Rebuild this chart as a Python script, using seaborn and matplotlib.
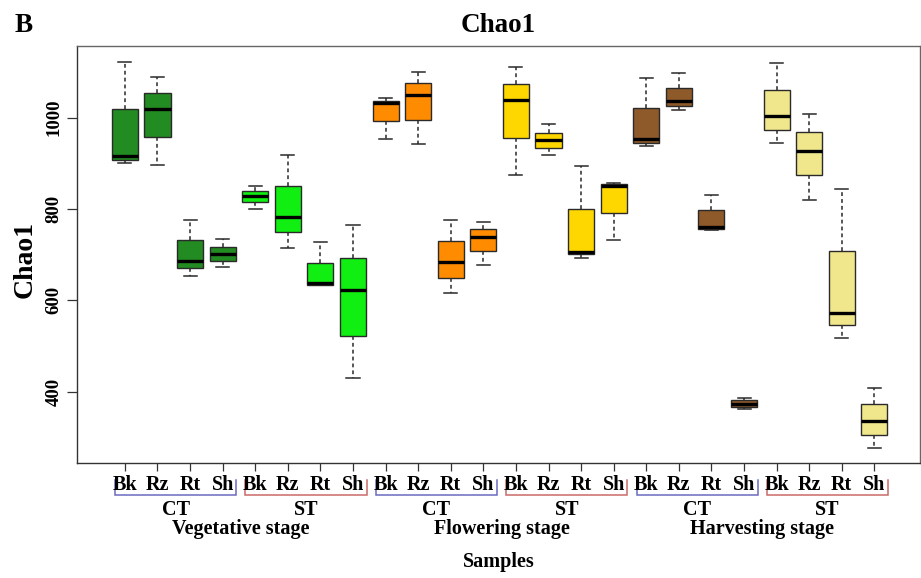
import numpy as np
import pandas as pd
import matplotlib
matplotlib.use("Agg")
import matplotlib.pyplot as plt
import matplotlib.transforms as mtransforms
import seaborn as sns

# ---------------- data ----------------
stages = ["Vegetative stage", "Flowering stage", "Harvesting stage"]
treatments = ["CT", "ST"]
tissues = ["Bk", "Rz", "Rt", "Sh"]

whisker_low = [901, 897, 654, 672, 800, 715, 633, 429,
               953, 942, 616, 677, 875, 918, 693, 733,
               937, 1017, 755, 361, 945, 820, 518, 277]
q1 = [908, 957, 670, 686, 815, 749, 633, 523,
      992, 996, 650, 709, 956, 934, 701, 791,
      945, 1026, 757, 366, 973, 874, 545, 306]
median = [916, 1019, 687, 701, 829, 783, 637, 622,
          1032, 1050, 683, 739, 1038, 951, 706, 850,
          953, 1036, 761, 374, 1003, 927, 572, 336]
q3 = [1019, 1054, 732, 717, 840, 850, 682, 693,
      1037, 1075, 730, 756, 1074, 967, 801, 854,
      1021, 1065, 798, 381, 1061, 968, 708, 372]
whisker_high = [1123, 1090, 775, 734, 850, 918, 728, 764,
                1043, 1101, 776, 771, 1111, 986, 895, 857,
                1087, 1098, 831, 387, 1119, 1009, 844, 408]

group_colors = ["#228B22", "#11EE11", "#FF8C00", "#FFD700", "#8E5A2A", "#F0E68C"]
bracket_colors = {"CT": "#6A6AC0", "ST": "#CC6A6A"}
y_ticks = [400, 600, 800, 1000]

# ---------------- build long table ----------------
names, rows, pal = [], [], {}
k = 0
for si, st in enumerate(stages):
    for ti, tr in enumerate(treatments):
        for tis in tissues:
            nm = f"{st}|{tr}|{tis}"
            names.append(nm)
            pal[nm] = group_colors[si * 2 + ti]
            for v in (whisker_low[k], q1[k], median[k], q3[k], whisker_high[k]):
                rows.append((nm, v))
            k += 1
df = pd.DataFrame(rows, columns=["sample", "value"])

# ---------------- figure ----------------
W, H = 921, 578
fig = plt.figure(figsize=(W / 100, H / 100), dpi=100)
ax_l, ax_r, ax_t, ax_b = 77, 920, 46, 463
ax = fig.add_axes([ax_l / W, 1 - ax_b / H, (ax_r - ax_l) / W, (ax_b - ax_t) / H])

serif = ["Liberation Serif", "DejaVu Serif"]
fs = 14.5

sns.boxplot(data=df, x="sample", y="value", hue="sample", order=names,
            hue_order=names, palette=pal, legend=False, saturation=1,
            width=0.8, whis=(0, 100), linecolor="#2a2a2a", linewidth=1.0,
            medianprops=dict(color="black", linewidth=2.4),
            whiskerprops=dict(linestyle=(0, (2.5, 2.0)), color="#2a2a2a", linewidth=1.1),
            capprops=dict(color="#2a2a2a", linewidth=1.1),
            ax=ax)

ax.set_xlim(-1.47, 24.4)
ax.set_ylim(243.8, 1157)
ax.set_xlabel("")
ax.set_ylabel("")
for name, s in ax.spines.items():
    s.set_color("#333333" if name in ("left", "bottom") else "#666666")
    s.set_linewidth(1.0)

ax.set_xticks(range(24))
ax.set_xticklabels([""] * 24)
ax.tick_params(axis="x", length=6, width=0.9, color="#333333")
ax.set_yticks(y_ticks)
ax.set_yticklabels([str(t) for t in y_ticks], rotation=90, va="center",
                   fontfamily=serif, fontweight="bold", fontsize=13.5)
ax.tick_params(axis="y", length=7, width=0.9, color="#333333", pad=3.5)

axh = ax_b - ax_t
def ay(py):
    return (ax_b - py) / axh

trans = mtransforms.blended_transform_factory(ax.transData, ax.transAxes)

# tissue labels
for i, nm in enumerate(names):
    ax.text(i, ay(490.5), nm.split("|")[2], transform=trans, ha="center",
            va="baseline", fontfamily=serif, fontweight="bold", fontsize=fs,
            clip_on=False)

# brackets and treatment / stage labels
for si, st in enumerate(stages):
    for ti, tr in enumerate(treatments):
        start = si * 8 + ti * 4
        x0, x1 = start - 0.3, start + 3 + 0.42
        ax.plot([x0, x0, x1, x1], [ay(480), ay(495), ay(495), ay(480)],
                transform=trans, color=bracket_colors[tr], lw=1.1,
                clip_on=False, solid_joinstyle="miter")
        ax.text((x0 + x1) / 2, ay(515), tr, transform=trans, ha="center",
                va="baseline", fontfamily=serif, fontweight="bold",
                fontsize=fs, clip_on=False)
    c = (si * 8 - 0.3 + si * 8 + 7 + 0.42) / 2
    ax.text(c, ay(534), st, transform=trans, ha="center", va="baseline",
            fontfamily=serif, fontweight="bold", fontsize=fs, clip_on=False)

ax.text(0.5, ay(567), "Samples", transform=ax.transAxes, ha="center",
        va="baseline", fontfamily=serif, fontweight="bold", fontsize=fs,
        clip_on=False)

# title, panel letter, y label
fig.text((ax_l + ax_r) / 2 / W, 1 - 32 / H, "Chao1", ha="center", va="baseline",
         fontfamily=serif, fontweight="bold", fontsize=19.5)
fig.text(15 / W, 1 - 32 / H, "B", ha="left", va="baseline",
         fontfamily=serif, fontweight="bold", fontsize=19.5)
fig.text(25 / W, 1 - 260 / H, "Chao1", ha="center", va="center", rotation=90,
         fontfamily=serif, fontweight="bold", fontsize=20)

fig.savefig("out.png", dpi=100)
